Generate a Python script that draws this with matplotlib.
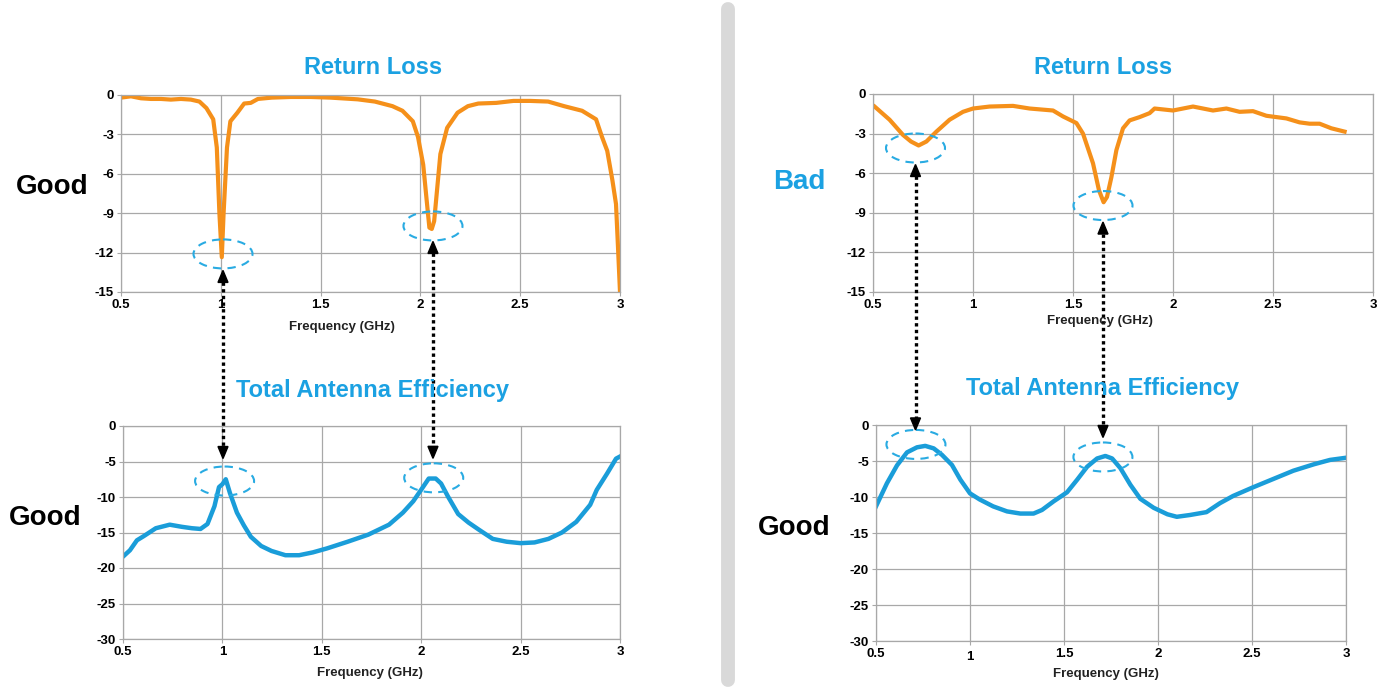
import matplotlib
matplotlib.use("Agg")
import matplotlib.pyplot as plt
from matplotlib.patches import Ellipse, Polygon
import numpy as np

plt.rcParams['font.family'] = ['Liberation Sans', 'DejaVu Sans']
plt.rcParams['font.weight'] = 'bold'

# ---------------- data ----------------
# Left "Good" design: return loss (dB)
rl_good_freq = [0.5, 0.55, 0.6, 0.65, 0.7, 0.75, 0.8, 0.85, 0.893, 0.928, 0.962, 0.98, 0.993, 1.005,
                1.014, 1.031, 1.048, 1.083, 1.117, 1.15, 1.186, 1.255, 1.35, 1.45, 1.55, 1.686, 1.772,
                1.86, 1.91, 1.962, 1.988, 2.014, 2.03, 2.045, 2.057, 2.069, 2.083, 2.1, 2.134, 2.186,
                2.238, 2.29, 2.38, 2.466, 2.55, 2.64, 2.72, 2.81, 2.88, 2.91, 2.936, 2.962, 2.98, 2.99, 3.0]
rl_good_db = [-0.2, -0.1, -0.25, -0.3, -0.3, -0.35, -0.3, -0.35, -0.5, -1.0, -1.85, -4.0, -9.0, -12.35,
              -9.0, -4.0, -2.0, -1.35, -0.65, -0.6, -0.3, -0.2, -0.15, -0.15, -0.2, -0.33, -0.5,
              -0.85, -1.2, -2.0, -3.2, -5.3, -7.8, -10.1, -10.2, -9.6, -7.3, -4.5, -2.5, -1.35,
              -0.85, -0.65, -0.6, -0.45, -0.45, -0.5, -0.85, -1.2, -1.85, -3.2, -4.25, -6.5, -8.3, -11.6, -15.0]

# Left "Good" design: total antenna efficiency (dB)
eff_good_freq = [0.5, 0.535, 0.57, 0.605, 0.665, 0.735, 0.796, 0.847, 0.89, 0.925, 0.96, 0.983, 1.0,
                 1.017, 1.038, 1.073, 1.108, 1.143, 1.195, 1.247, 1.317, 1.386, 1.455, 1.525, 1.63,
                 1.734, 1.838, 1.908, 1.96, 2.003, 2.038, 2.073, 2.1, 2.134, 2.186, 2.238, 2.29, 2.36,
                 2.43, 2.5, 2.57, 2.64, 2.708, 2.78, 2.85, 2.883, 2.935, 2.98, 3.0]
eff_good_db = [-18.4, -17.5, -16.1, -15.5, -14.4, -13.9, -14.2, -14.4, -14.5, -13.8, -11.3, -8.6, -8.2,
               -7.5, -9.45, -12.2, -14.0, -15.6, -16.9, -17.6, -18.2, -18.2, -17.8, -17.25, -16.3,
               -15.3, -13.9, -12.2, -10.6, -8.85, -7.4, -7.4, -8.1, -9.9, -12.4, -13.6, -14.6, -15.9,
               -16.3, -16.5, -16.4, -15.9, -15.0, -13.5, -11.1, -9.0, -6.7, -4.6, -4.3]

# Right "Bad" design: return loss (dB)
rl_bad_freq = [0.508, 0.583, 0.65, 0.69, 0.728, 0.767, 0.817, 0.883, 0.95, 1.0, 1.083, 1.2, 1.283, 1.4,
               1.45, 1.517, 1.55, 1.6, 1.63, 1.653, 1.67, 1.692, 1.717, 1.75, 1.783, 1.833, 1.883,
               1.908, 2.0, 2.1, 2.2, 2.267, 2.333, 2.4, 2.467, 2.517, 2.567, 2.633, 2.683, 2.733,
               2.792, 2.858]
rl_bad_db = [-0.95, -1.95, -3.1, -3.6, -3.9, -3.6, -2.85, -1.95, -1.35, -1.1, -0.95, -0.9, -1.1, -1.25,
             -1.7, -2.2, -3.0, -5.25, -7.3, -8.2, -7.8, -6.3, -4.25, -2.6, -2.0, -1.75, -1.45,
             -1.1, -1.25, -0.95, -1.25, -1.1, -1.35, -1.3, -1.65, -1.75, -1.85, -2.15, -2.25, -2.25,
             -2.6, -2.85]

# Right design: total antenna efficiency (dB)
eff_bad_freq = [0.5, 0.558, 0.612, 0.665, 0.718, 0.762, 0.807, 0.851, 0.904, 0.949, 1.0, 1.052, 1.123,
                1.197, 1.268, 1.338, 1.383, 1.445, 1.516, 1.57, 1.623, 1.676, 1.72, 1.756, 1.8, 1.853,
                1.906, 1.977, 2.05, 2.1, 2.17, 2.258, 2.33, 2.4, 2.506, 2.613, 2.72, 2.83, 2.915, 3.0]
eff_bad_db = [-11.3, -8.1, -5.6, -3.8, -3.1, -2.9, -3.25, -4.15, -5.55, -7.6, -9.5, -10.35, -11.3,
              -12.0, -12.3, -12.3, -11.8, -10.6, -9.35, -7.6, -5.8, -4.65, -4.3, -4.65, -6.0, -8.3,
              -10.25, -11.5, -12.4, -12.75, -12.5, -12.1, -10.85, -9.85, -8.65, -7.5, -6.35, -5.45,
              -4.85, -4.55]

freq_ticks = [0.5, 1, 1.5, 2, 2.5, 3]
freq_tick_labels = ['0.5', '1', '1.5', '2', '2.5', '3']
rl_ticks = [0, -3, -6, -9, -12, -15]
eff_ticks = [0, -5, -10, -15, -20, -25, -30]

# highlighted resonances (freq, dB) for ellipse markers
hl_good_rl = [(1.011, -12.1), (2.063, -9.97)]
hl_good_eff = [(1.011, -7.75), (2.063, -7.3)]
hl_bad_rl = [(0.7125, -4.09), (1.65, -8.45)]
hl_bad_eff = [(0.7125, -2.7), (1.707, -4.44)]

ORANGE = '#f5901a'
BLUE_LINE = '#1a9dd9'
BLUE_TXT = '#1ba1e2'
ELL_BLUE = '#29abe2'
GRID = '#a8a8a8'

W, H = 1385, 688
fig = plt.figure(figsize=(W / 100, H / 100), dpi=100)


def make_ax(x0, y0, x1, y1):
    return fig.add_axes([x0 / W, 1 - y1 / H, (x1 - x0) / W, (y1 - y0) / H])


def style(ax, yticks, ylim):
    ax.set_xlim(0.5, 3)
    ax.set_ylim(*ylim)
    ax.set_xticks(freq_ticks)
    ax.set_xticklabels(freq_tick_labels)
    ax.set_yticks(yticks)
    ax.set_yticklabels([str(t) for t in yticks])
    ax.grid(True, color=GRID, linewidth=0.9)
    ax.set_axisbelow(True)
    for s in ax.spines.values():
        s.set_color(GRID)
        s.set_linewidth(0.9)
    ax.tick_params(length=3, color=GRID, labelsize=9.5, pad=2)
    for lab in ax.get_xticklabels() + ax.get_yticklabels():
        lab.set_fontweight('bold')


ax_tl = make_ax(121, 95, 620, 292)
ax_bl = make_ax(123, 426, 620, 639)
ax_tr = make_ax(873, 94, 1373, 292)
ax_br = make_ax(876, 425, 1346, 641)

style(ax_tl, rl_ticks, (-15, 0))
style(ax_bl, eff_ticks, (-30, 0))
style(ax_tr, rl_ticks, (-15, 0))
style(ax_br, eff_ticks, (-30, 0))

ax_tl.plot(rl_good_freq, rl_good_db, color=ORANGE, lw=3.0, solid_joinstyle='round')
ax_bl.plot(eff_good_freq, eff_good_db, color=BLUE_LINE, lw=3.2, solid_joinstyle='round')
ax_tr.plot(rl_bad_freq, rl_bad_db, color=ORANGE, lw=3.0, solid_joinstyle='round')
ax_br.plot(eff_bad_freq, eff_bad_db, color=BLUE_LINE, lw=3.2, solid_joinstyle='round')

# "1" tick label on bottom right chart sits a bit lower
ax_br.xaxis.get_major_ticks()[1].label1.set_y(-0.015)

# overlay in pixel coordinates
ov = fig.add_axes([0, 0, 1, 1], zorder=10)
ov.set_xlim(0, W)
ov.set_ylim(H, 0)
ov.axis('off')
ov.patch.set_alpha(0)


def to_px(ax, pt):
    d = ax.transData.transform(pt)
    return ov.transData.inverted().transform(d)


# divider
ov.plot([728, 728], [9, 680], color='#d9d9d9', lw=10, solid_capstyle='round')

# titles and labels
for cx, y, s in [(373, 68, 'Return Loss'), (373, 390, 'Total Antenna Efficiency'),
                 (1103, 68, 'Return Loss'), (1103, 388, 'Total Antenna Efficiency')]:
    ov.text(cx, y, s, color=BLUE_TXT, fontsize=17, fontweight='bold', ha='center', va='center')

ov.text(52, 187, 'Good', color='black', fontsize=20, fontweight='bold', ha='center', va='center')
ov.text(45, 518, 'Good', color='black', fontsize=20, fontweight='bold', ha='center', va='center')
ov.text(799, 182, 'Bad', color=BLUE_TXT, fontsize=20, fontweight='bold', ha='center', va='center')
ov.text(794, 528, 'Good', color='black', fontsize=20, fontweight='bold', ha='center', va='center')

for cx, y in [(342, 327), (370, 673), (1100, 321), (1106, 674)]:
    ov.text(cx, y, 'Frequency (GHz)', color='#222222', fontsize=9.5, fontweight='bold',
            ha='center', va='center')

EW, EH = 59, 29


def ellipse(cx, cy):
    ov.add_patch(Ellipse((cx, cy), EW, EH, fill=False, edgecolor=ELL_BLUE, lw=1.5,
                         linestyle=(0, (4, 3))))


def arrow(x, y0, y1):
    hh, hw = 12, 5
    ov.plot([x, x], [y0 + hh, y1 - hh], color='black', lw=2.4, linestyle=(0, (1, 1)),
            dash_capstyle='butt')
    ov.add_patch(Polygon([(x, y0), (x - hw, y0 + hh), (x + hw, y0 + hh)], closed=True,
                         color='black'))
    ov.add_patch(Polygon([(x, y1), (x - hw, y1 - hh), (x + hw, y1 - hh)], closed=True,
                         color='black'))


for (ta, tp), (ba, bp), gaps in [((ax_tl, hl_good_rl[0]), (ax_bl, hl_good_eff[0]), (2, 8)),
                                  ((ax_tl, hl_good_rl[1]), (ax_bl, hl_good_eff[1]), (1, 5)),
                                  ((ax_tr, hl_bad_rl[0]), (ax_br, hl_bad_eff[0]), (2, 0)),
                                  ((ax_tr, hl_bad_rl[1]), (ax_br, hl_bad_eff[1]), (2, 5))]:
    tx, ty = to_px(ta, tp)
    bx, by = to_px(ba, bp)
    ellipse(tx, ty)
    ellipse(bx, by)
    arrow(tx, ty + EH / 2 + gaps[0], by - EH / 2 - gaps[1])

fig.savefig('out.png', dpi=100)
